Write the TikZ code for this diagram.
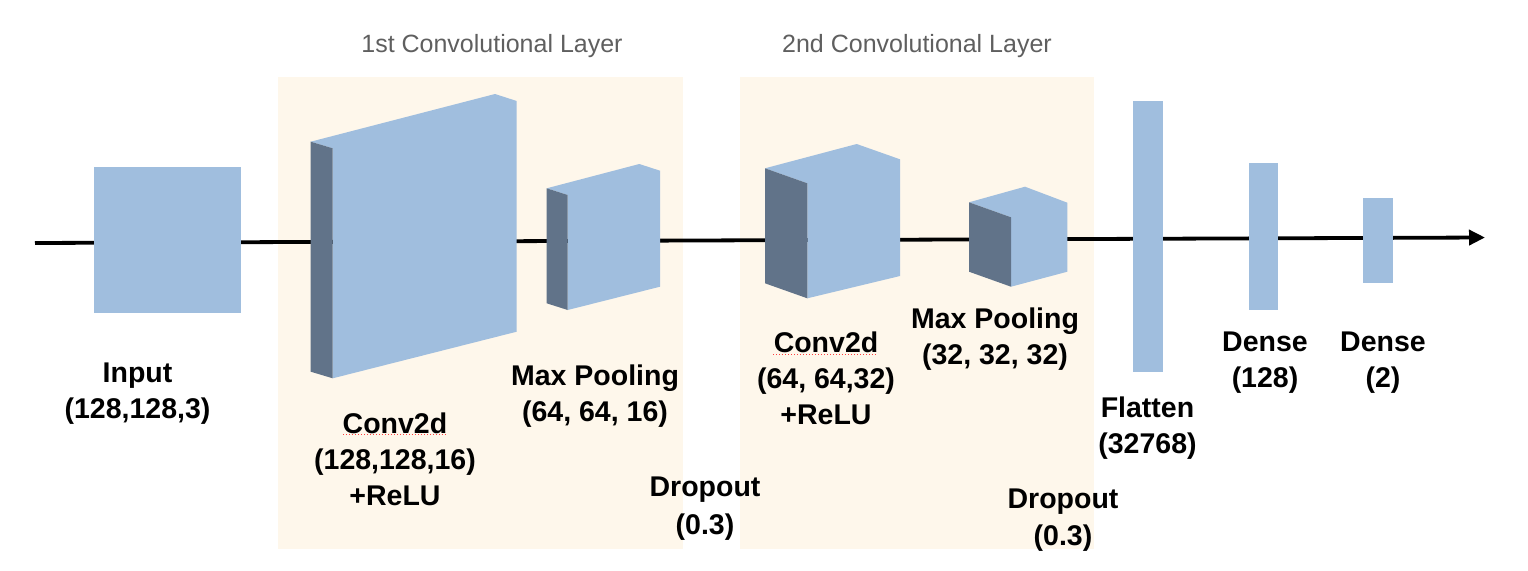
\documentclass[tikz,border=0pt]{standalone}
\usepackage{fontspec}
\setmainfont{Liberation Sans}
\usetikzlibrary{arrows.meta}
\definecolor{facec}{RGB}{160,190,222}
\definecolor{sidec}{RGB}{97,115,137}
\definecolor{panelc}{RGB}{254,247,235}
\definecolor{titlec}{RGB}{95,95,95}
\begin{document}
\begin{tikzpicture}[x=1pt,y=-1pt,
  lbl/.style={font=\fontsize{28.5}{36}\selectfont\bfseries, align=center, inner sep=0pt, anchor=north},
  ttl/.style={font=\fontsize{25}{30}\selectfont, text=titlec, inner sep=0pt, anchor=base},
  bar/.style={fill=facec, draw=none, inner sep=0pt},
  face/.style={fill=facec},
  side/.style={fill=sidec},
  flow/.style={line width=3.8pt, black},
  squig/.style={red!75, dotted, line width=1pt}]
\useasboundingbox (0,0) rectangle (1528,570);
% panels
\fill[panelc] (278,77) rectangle (683,549);
\fill[panelc] (740,77) rectangle (1094,549);
\node[ttl] (t1) at (492,52) {1st Convolutional Layer};
\node[ttl] (t2) at (917,52) {2nd Convolutional Layer};
% main flow line
\coordinate (start) at (35,243);
\coordinate (finish) at (1485,237.5);
\draw[flow, -{Triangle[length=16pt,width=15pt]}] (start) -- (finish);
% input
\node[bar, minimum width=147pt, minimum height=146pt] (input) at (167.5,240) {};
% conv2d 1
\fill[face] (310.7,141.7) -- (495,94) -- (516.7,101) -- (516.7,331.7) -- (332.7,378.3) -- (332.7,148.3) -- cycle;
\fill[side] (310.7,141.7) -- (332.7,148.3) -- (332.7,378.3) -- (310.7,371.7) -- cycle;
% max pool 1
\fill[face] (546.7,188.3) -- (639.3,164) -- (660,170.7) -- (660,286.7) -- (567.7,310) -- (567.7,195) -- cycle;
\fill[side] (546.7,188.3) -- (567.7,195) -- (567.7,310) -- (546.7,303.3) -- cycle;
% conv2d 2
\fill[face] (765,168.3) -- (856.7,144) -- (900,159.3) -- (900,276) -- (807.3,298.3) -- (807.3,183.3) -- cycle;
\fill[side] (765,168.3) -- (807.3,183.3) -- (807.3,298.3) -- (765,283.3) -- cycle;
% max pool 2
\fill[face] (969,202.3) -- (1025,186.7) -- (1067.3,202.7) -- (1067.3,271.7) -- (1011,286.7) -- (1011,217.3) -- cycle;
\fill[side] (969,202.3) -- (1011,217.3) -- (1011,286.7) -- (969,271.7) -- cycle;
% dense bars
\node[bar, minimum width=29.4pt, minimum height=271.3pt] (flat) at (1148,236.7) {};
\node[bar, minimum width=29pt, minimum height=146.7pt] (d1) at (1263.2,236.7) {};
\node[bar, minimum width=29.4pt, minimum height=85pt] (d2) at (1378,240.2) {};
% labels
\node[lbl] (linput) at (137.5,363) {Input\\(128,128,3)};
\node[lbl] (lconv1) at (395,413) {Conv2d\\(128,128,16)\\+ReLU};
\node[lbl] (lpool1) at (595,365) {Max Pooling\\(64, 64, 16)};
\node[lbl, font=\fontsize{28.5}{38}\selectfont\bfseries] (ldrop1) at (705,477) {Dropout\\(0.3)};
\node[lbl] (lconv2) at (826,332) {Conv2d\\(64, 64,32)\\+ReLU};
\node[lbl] (lpool2) at (995,308) {Max Pooling\\(32, 32, 32)};
\node[lbl, font=\fontsize{28.5}{37}\selectfont\bfseries] (ldrop2) at (1063,489) {Dropout\\(0.3)};
\node[lbl] (lflat) at (1147.5,397) {Flatten\\(32768)};
\node[lbl] (ld1) at (1265,332) {Dense\\(128)};
\node[lbl] (ld2) at (1383,332) {Dense\\(2)};
% spell-check underlines
\draw[squig] (343,434) -- (447,434);
\draw[squig] (773,354) -- (877,354);
\end{tikzpicture}
\end{document}
